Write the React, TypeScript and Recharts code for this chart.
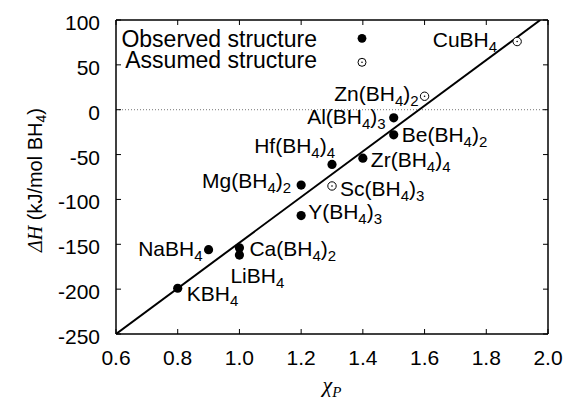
import React from "react";
import { ScatterChart, Scatter, XAxis, YAxis, ReferenceLine, Legend } from "recharts";

const xTicks = [0.6, 0.8, 1.0, 1.2, 1.4, 1.6, 1.8, 2.0];
const yTicks = [100, 50, 0, -50, -100, -150, -200, -250];

const observedNames = ["KBH4", "NaBH4", "Ca(BH4)2", "LiBH4", "Mg(BH4)2", "Y(BH4)3", "Hf(BH4)4", "Zr(BH4)4", "Be(BH4)2", "Al(BH4)3"];
const observedChi = [0.8, 0.9, 1.0, 1.0, 1.2, 1.2, 1.3, 1.4, 1.5, 1.5];
const observedDH = [-199, -156, -154, -162, -84, -118, -61, -54, -28, -9];

const assumedNames = ["Sc(BH4)3", "Zn(BH4)2", "CuBH4"];
const assumedChi = [1.3, 1.6, 1.9];
const assumedDH = [-85, 15, 76];

const fitChi = [0.6, 1.975];
const fitDH = [-250, 100];

// where each formula sits relative to its marker (pixels)
const labelPlacement: Record<string, { dx: number; dy: number; anchor: "start" | "end" }> = {
  KBH4: { dx: 9, dy: 13, anchor: "start" },
  NaBH4: { dx: -6, dy: 6, anchor: "end" },
  "Ca(BH4)2": { dx: 10, dy: 8, anchor: "start" },
  LiBH4: { dx: -9, dy: 28, anchor: "start" },
  "Mg(BH4)2": { dx: -10, dy: 3, anchor: "end" },
  "Y(BH4)3": { dx: 7, dy: 3, anchor: "start" },
  "Hf(BH4)4": { dx: 3, dy: -11, anchor: "end" },
  "Zr(BH4)4": { dx: 8, dy: 9, anchor: "start" },
  "Be(BH4)2": { dx: 8, dy: 7, anchor: "start" },
  "Al(BH4)3": { dx: -8, dy: 6, anchor: "end" },
  "Sc(BH4)3": { dx: 8, dy: 10, anchor: "start" },
  "Zn(BH4)2": { dx: -6, dy: 5, anchor: "end" },
  CuBH4: { dx: -20, dy: 5, anchor: "end" },
};

const observed = observedNames.map((name, i) => ({ name, chi: observedChi[i], dH: observedDH[i] }));
const assumed = assumedNames.map((name, i) => ({ name, chi: assumedChi[i], dH: assumedDH[i] }));
const fit = fitChi.map((chi, i) => ({ chi, dH: fitDH[i] }));

const SANS = "'Liberation Sans', Arial, sans-serif";
const SERIF = "'Liberation Serif', 'Times New Roman', serif";

function Formula({ x, y, text, anchor }: { x: number; y: number; text: string; anchor: "start" | "end" | "middle" }) {
  const parts = text.split(/(\d)/).filter(Boolean);
  let low = false;
  return (
    <text x={x} y={y} textAnchor={anchor} fontSize={21} fill="#000" fontFamily={SANS}>
      {parts.map((p, i) => {
        const sub = /\d/.test(p);
        const dy = sub ? (low ? 0 : 5) : low ? -5 : 0;
        low = sub;
        return (
          <tspan key={i} dy={dy} fontSize={sub ? 15 : 21}>
            {p}
          </tspan>
        );
      })}
    </text>
  );
}

function pointLabel(cx: number, cy: number, name: string) {
  const pl = labelPlacement[name];
  if (!pl) return null;
  return <Formula x={cx + pl.dx} y={cy + pl.dy} text={name} anchor={pl.anchor} />;
}

const ObservedShape = (p: any) => (
  <g>
    <circle cx={p.cx} cy={p.cy} r={4.6} fill="#000" />
    {pointLabel(p.cx, p.cy, p.payload.name)}
  </g>
);

const AssumedShape = (p: any) => (
  <g>
    <circle cx={p.cx} cy={p.cy} r={4.2} fill="#fff" stroke="#000" strokeWidth={1} />
    <circle cx={p.cx} cy={p.cy} r={0.8} fill="#000" />
    {pointLabel(p.cx, p.cy, p.payload.name)}
  </g>
);

const BottomTick = ({ x, y, payload }: any) => (
  <g>
    <line x1={x} x2={x} y1={y} y2={y - 5} stroke="#000" />
    <text x={x} y={y + 31} textAnchor="middle" fontSize={21} fontFamily={SANS} fill="#000">
      {Number(payload.value).toFixed(1)}
    </text>
  </g>
);

const TopTick = ({ x, y }: any) => <line x1={x} x2={x} y1={y} y2={y + 5} stroke="#000" />;

const LeftTick = ({ x, y, payload }: any) => (
  <g>
    <line x1={x} x2={x + 5} y1={y} y2={y} stroke="#000" />
    <text x={x - 16} y={y + 10} textAnchor="end" fontSize={21} fontFamily={SANS} fill="#000">
      {payload.value}
    </text>
  </g>
);

const RightTick = ({ x, y }: any) => <line x1={x} x2={x - 5} y1={y} y2={y} stroke="#000" />;

const YLabel = ({ viewBox }: any) => {
  const cx = viewBox.x + 42;
  const cy = viewBox.y + viewBox.height / 2 + 3;
  return (
    <text x={cx} y={cy} transform={`rotate(-90 ${cx} ${cy})`} textAnchor="middle" fontSize={20} fontFamily={SANS} fill="#000">
      <tspan fontFamily={SERIF} fontStyle="italic">ΔH</tspan>
      <tspan> (kJ/mol BH</tspan>
      <tspan fontSize={14} dy={4}>4</tspan>
      <tspan dy={-4}>)</tspan>
    </text>
  );
};

const XLabel = ({ viewBox }: any) => {
  const cx = viewBox.x + viewBox.width / 2;
  const cy = viewBox.y + 58;
  return (
    <text x={cx} y={cy} textAnchor="middle" fontSize={22} fontFamily={SERIF} fontStyle="italic" fill="#000">
      <tspan>χ</tspan>
      <tspan fontSize={15} dy={5}>P</tspan>
    </text>
  );
};

const renderLegend = () => (
  <svg width={260} height={52} style={{ display: "block" }}>
    <text x={207} y={22.7} textAnchor="end" fontSize={23} fontFamily={SANS} fill="#000">
      Observed structure
    </text>
    <circle cx={252} cy={14.3} r={4.4} fill="#000" />
    <text x={207} y={44.3} textAnchor="end" fontSize={23} fontFamily={SANS} fill="#000">
      Assumed structure
    </text>
    <circle cx={252} cy={38.3} r={4} fill="#fff" stroke="#000" />
    <circle cx={252} cy={38.3} r={0.8} fill="#000" />
  </svg>
);

export default function App() {
  const frame = { stroke: "#000", strokeWidth: 1.5 };
  return (
    <div style={{ position: "absolute", left: 0, top: 0, background: "#fff", fontFamily: SANS }}>
      <ScatterChart width={566} height={403} margin={{ top: 0, right: 0, bottom: 0, left: 0 }}>
        <XAxis
          type="number"
          dataKey="chi"
          domain={[0.6, 2.0]}
          ticks={xTicks}
          height={69}
          tickSize={0}
          tickMargin={0}
          tickLine={false}
          axisLine={frame}
          tick={<BottomTick />}
          label={<XLabel />}
          allowDataOverflow
        />
        <XAxis
          xAxisId="top"
          orientation="top"
          type="number"
          dataKey="chi"
          domain={[0.6, 2.0]}
          ticks={xTicks}
          height={20}
          tickSize={0}
          tickMargin={0}
          tickLine={false}
          axisLine={frame}
          tick={<TopTick />}
          allowDataOverflow
        />
        <YAxis
          type="number"
          dataKey="dH"
          domain={[-250, 100]}
          ticks={yTicks}
          width={116}
          tickSize={0}
          tickMargin={0}
          tickLine={false}
          axisLine={frame}
          tick={<LeftTick />}
          label={<YLabel />}
          allowDataOverflow
        />
        <YAxis
          yAxisId="right"
          orientation="right"
          type="number"
          dataKey="dH"
          domain={[-250, 100]}
          ticks={yTicks}
          width={18}
          tickSize={0}
          tickMargin={0}
          tickLine={false}
          axisLine={frame}
          tick={<RightTick />}
          allowDataOverflow
        />
        <ReferenceLine y={0} stroke="#777" strokeDasharray="1 2" strokeWidth={1} />
        <Scatter
          data={fit}
          xAxisId="top"
          yAxisId="right"
          line={{ stroke: "#000", strokeWidth: 2 }}
          shape={() => <g />}
          isAnimationActive={false}
        />
        <Scatter data={observed} shape={ObservedShape} isAnimationActive={false} />
        <Scatter data={assumed} shape={AssumedShape} isAnimationActive={false} />
        <Legend
          layout="vertical"
          align="center"
          verticalAlign="middle"
          content={renderLegend}
          wrapperStyle={{ top: 24, left: 110, width: 260 }}
        />
      </ScatterChart>
    </div>
  );
}
